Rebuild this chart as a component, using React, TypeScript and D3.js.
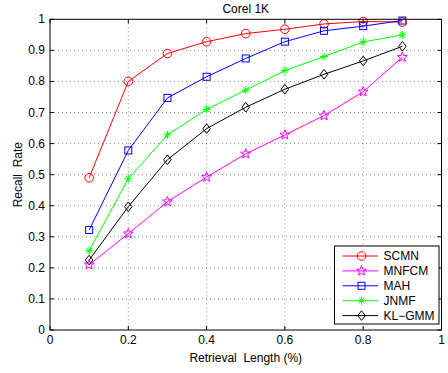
import React from "react";
import * as d3 from "d3";

const xValues = [0.1, 0.2, 0.3, 0.4, 0.5, 0.6, 0.7, 0.8, 0.9];
const scmn = [0.49, 0.80, 0.89, 0.928, 0.954, 0.968, 0.985, 0.993, 0.991];
const mnfcm = [0.21, 0.31, 0.413, 0.492, 0.567, 0.628, 0.69, 0.767, 0.878];
const mah = [0.322, 0.578, 0.747, 0.815, 0.874, 0.928, 0.963, 0.978, 0.996];
const jnmf = [0.255, 0.487, 0.628, 0.71, 0.772, 0.835, 0.88, 0.927, 0.95];
const klgmm = [0.225, 0.397, 0.548, 0.648, 0.717, 0.775, 0.823, 0.866, 0.913];
const xTicks = [0, 0.2, 0.4, 0.6, 0.8, 1];
const yTicks = [0, 0.1, 0.2, 0.3, 0.4, 0.5, 0.6, 0.7, 0.8, 0.9, 1];

const series = [
  { name: "SCMN", values: scmn, color: "#ff0000", marker: "circle" },
  { name: "MNFCM", values: mnfcm, color: "#ff00ff", marker: "star" },
  { name: "MAH", values: mah, color: "#0000ff", marker: "square" },
  { name: "JNMF", values: jnmf, color: "#00ff00", marker: "asterisk" },
  { name: "KL\u2212GMM", values: klgmm, color: "#000000", marker: "diamond" },
];

const W = 448, H = 373;
const L = 50, R = 441.5, T = 19.3, B = 330;
const font = "'Liberation Sans', Arial, sans-serif";
const fs = 12;

function Marker({ type, x, y, color }: { type: string; x: number; y: number; color: string }) {
  const sw = 1;
  if (type === "circle") return <circle cx={x} cy={y} r={4.3} fill="none" stroke={color} strokeWidth={sw} />;
  if (type === "square") return <rect x={x - 3.5} y={y - 3.5} width={7} height={7} fill="none" stroke={color} strokeWidth={sw} />;
  if (type === "diamond") return <path d={`M${x},${y - 4.8}L${x + 3.8},${y}L${x},${y + 4.8}L${x - 3.8},${y}Z`} fill="none" stroke={color} strokeWidth={sw} />;
  if (type === "star") {
    const pts: string[] = [];
    for (let i = 0; i < 10; i++) {
      const r = i % 2 === 0 ? 5.2 : 2.2;
      const a = -Math.PI / 2 + (i * Math.PI) / 5;
      pts.push(`${x + r * Math.cos(a)},${y + r * Math.sin(a)}`);
    }
    return <polygon points={pts.join(" ")} fill="none" stroke={color} strokeWidth={sw} />;
  }
  if (type === "asterisk") {
    const r = 4;
    const lines = [];
    for (let i = 0; i < 4; i++) {
      const a = (i * Math.PI) / 4;
      lines.push(
        <line key={i} x1={x - r * Math.cos(a)} y1={y - r * Math.sin(a)} x2={x + r * Math.cos(a)} y2={y + r * Math.sin(a)} stroke={color} strokeWidth={sw} />
      );
    }
    return <g>{lines}</g>;
  }
  return null;
}

export default function App() {
  const x = d3.scaleLinear().domain([0, 1]).range([L, R]);
  const y = d3.scaleLinear().domain([0, 1]).range([B, T]);
  const line = d3.line<number>().x((_, i) => x(xValues[i])).y((d) => y(d));

  const legX = 334.5, legY = 246, legW = 104.5, legH = 78;
  const rowH = 14.9;

  return (
    <svg width={W} height={H} style={{ position: "absolute", left: 0, top: 0, background: "#fff" }}>
      <rect x={0} y={0} width={W} height={H} fill="#fff" />
      {/* grid */}
      {xTicks.slice(1, -1).map((t) => (
        <line key={"gx" + t} x1={x(t)} x2={x(t)} y1={T} y2={B} stroke="#444" strokeWidth={0.6} strokeDasharray="1,3" />
      ))}
      {yTicks.slice(1, -1).map((t) => (
        <line key={"gy" + t} x1={L} x2={R} y1={y(t)} y2={y(t)} stroke="#444" strokeWidth={0.6} strokeDasharray="1,3" />
      ))}
      {/* ticks */}
      {xTicks.map((t) => (
        <g key={"tx" + t}>
          <line x1={x(t)} x2={x(t)} y1={B} y2={B - 4} stroke="#000" />
          <line x1={x(t)} x2={x(t)} y1={T} y2={T + 4} stroke="#000" />
          <text x={x(t)} y={B + 14} fontSize={fs} fontFamily={font} textAnchor="middle" fill="#000">{String(t)}</text>
        </g>
      ))}
      {yTicks.map((t) => (
        <g key={"ty" + t}>
          <line x1={L} x2={L + 4} y1={y(t)} y2={y(t)} stroke="#000" />
          <line x1={R} x2={R - 4} y1={y(t)} y2={y(t)} stroke="#000" />
          <text x={L - 5} y={y(t) + 4} fontSize={fs} fontFamily={font} textAnchor="end" fill="#000">{String(t)}</text>
        </g>
      ))}
      {/* lines */}
      {series.map((s) => (
        <g key={s.name}>
          <path d={line(s.values) || ""} fill="none" stroke={s.color} strokeWidth={1} />
          {s.values.map((v, i) => (
            <Marker key={i} type={s.marker} x={x(xValues[i])} y={y(v)} color={s.color} />
          ))}
        </g>
      ))}
      {/* frame */}
      <rect x={L} y={T} width={R - L} height={B - T} fill="none" stroke="#000" strokeWidth={1} />
      {/* labels */}
      <text x={(L + R) / 2} y={12.5} fontSize={fs} fontFamily={font} textAnchor="middle" fill="#000">Corel 1K</text>
      <text x={(L + R) / 2} y={362} fontSize={fs} fontFamily={font} textAnchor="middle" fill="#000">{"Retrieval\u00a0\u00a0Length (%)"}</text>
      <text transform={`translate(22,${(T + B) / 2}) rotate(-90)`} fontSize={fs} fontFamily={font} textAnchor="middle" fill="#000">{"Recall\u00a0\u00a0Rate"}</text>
      {/* legend */}
      <rect x={legX} y={legY} width={legW} height={legH} fill="#fff" stroke="#000" strokeWidth={1} />
      {series.map((s, i) => {
        const cy = 256 + i * rowH;
        return (
          <g key={"leg" + s.name}>
            <line x1={342.5} x2={378} y1={cy} y2={cy} stroke={s.color} strokeWidth={1} />
            <Marker type={s.marker} x={361.5} y={cy} color={s.color} />
            <text x={383.5} y={cy + 4.3} fontSize={fs} fontFamily={font} fill="#000">{s.name}</text>
          </g>
        );
      })}
    </svg>
  );
}
